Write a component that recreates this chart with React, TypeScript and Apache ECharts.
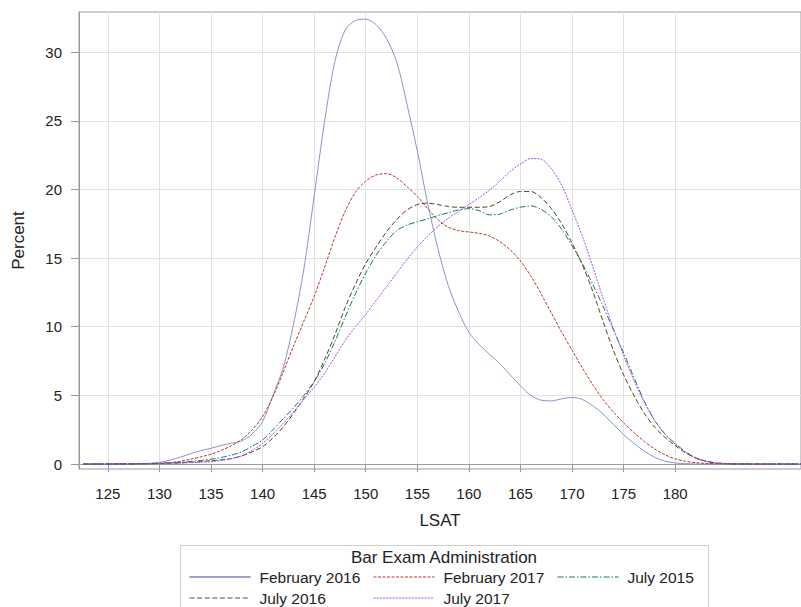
import React, { useEffect, useRef } from 'react';
import * as echarts from 'echarts';

// LSAT score positions at which the curves were read
const lsat = [
  122.6, 124, 126, 128, 129, 130, 131, 132, 133, 134, 135, 136, 137, 138, 139,
  140, 141, 142, 143, 144, 145, 146, 147, 148, 149, 150, 151, 152, 153, 154,
  155, 156, 157, 158, 159, 160, 161, 162, 163, 164, 165, 166, 167, 168, 169,
  170, 171, 172, 173, 174, 175, 176, 177, 178, 179, 180, 181, 182, 183, 184,
  185, 186, 188, 190, 192.2,
];

const feb2016 = [
  0, 0, 0, 0.02, 0.05, 0.12, 0.28, 0.5, 0.75, 0.97, 1.15, 1.35, 1.52, 1.7, 2.2,
  3.1, 5.0, 7.0, 10.2, 14.2, 19.5, 24.9, 29.3, 31.6, 32.3, 32.4, 32.0, 31.0, 29.3, 26.2,
  22.8, 19.0, 15.7, 13.0, 11.1, 9.6, 8.7, 8.0, 7.3, 6.5, 5.7, 5.0, 4.65, 4.6, 4.75,
  4.85, 4.7, 4.25, 3.65, 2.9, 2.15, 1.5, 0.95, 0.5, 0.22, 0.08, 0.03, 0.01, 0, 0,
  0, 0, 0, 0, 0,
];

const feb2017 = [
  0, 0, 0.01, 0.02, 0.03, 0.05, 0.1, 0.2, 0.35, 0.52, 0.72, 1.0, 1.35, 1.8, 2.5,
  3.45, 4.9, 6.7, 8.6, 10.4, 12.2, 14.3, 16.5, 18.4, 19.8, 20.6, 21.05, 21.15, 20.85, 20.2,
  19.5, 18.6, 17.8, 17.25, 17.0, 16.9, 16.8, 16.6, 16.2, 15.6, 14.8, 13.7, 12.4, 11.0, 9.6,
  8.3, 7.0, 5.8, 4.7, 3.8, 3.0, 2.3, 1.65, 1.1, 0.68, 0.38, 0.2, 0.1, 0.05, 0.03,
  0.02, 0.01, 0, 0, 0,
];

const jul2015 = [
  0, 0, 0.01, 0.02, 0.04, 0.06, 0.09, 0.13, 0.19, 0.26, 0.35, 0.48, 0.65, 0.9, 1.3,
  1.75, 2.5, 3.3, 4.1, 5.0, 6.0, 7.3, 8.9, 10.7, 12.4, 13.9, 15.2, 16.2, 17.0, 17.4,
  17.65, 17.85, 18.1, 18.3, 18.5, 18.6, 18.45, 18.15, 18.2, 18.5, 18.7, 18.8, 18.55, 18.0, 17.1,
  15.9, 14.6, 13.1, 11.5, 9.8, 8.1, 6.3, 4.6, 3.2, 2.2, 1.5, 0.9, 0.45, 0.2, 0.08,
  0.03, 0.01, 0, 0, 0,
];

const jul2016 = [
  0, 0, 0.01, 0.02, 0.03, 0.04, 0.06, 0.09, 0.13, 0.18, 0.24, 0.31, 0.4, 0.6, 0.9,
  1.26, 1.9, 2.7, 3.7, 4.8, 6.0, 7.6, 9.4, 11.4, 13.1, 14.6, 15.8, 16.9, 17.8, 18.5,
  18.9, 19.0, 18.9, 18.75, 18.7, 18.7, 18.7, 18.75, 19.1, 19.6, 19.85, 19.85, 19.4, 18.6, 17.5,
  16.1, 14.5, 12.6, 10.4, 8.3, 6.5, 5.0, 3.7, 2.7, 1.95, 1.35, 0.82, 0.45, 0.2, 0.08,
  0.03, 0.01, 0, 0, 0,
];

const jul2017 = [
  0, 0, 0.01, 0.02, 0.02, 0.03, 0.05, 0.07, 0.1, 0.13, 0.18, 0.26, 0.4, 0.6, 1.0,
  1.5, 2.2, 2.96, 3.8, 4.7, 5.6, 6.6, 7.8, 9.0, 10.0, 10.9, 11.9, 12.9, 13.9, 14.9,
  15.8, 16.6, 17.3, 17.9, 18.4, 18.9, 19.4, 19.95, 20.6, 21.3, 21.85, 22.25, 22.2, 21.5, 20.3,
  18.5, 16.6, 14.4, 12.1, 9.9, 7.9, 6.1, 4.5, 3.2, 2.2, 1.45, 0.85, 0.42, 0.2, 0.08,
  0.03, 0.01, 0, 0, 0,
];

const xTicks = [125, 130, 135, 140, 145, 150, 155, 160, 165, 170, 175, 180];
const yTicks = [0, 5, 10, 15, 20, 25, 30];

const seriesNames = ['February 2016', 'February 2017', 'July 2015', 'July 2016', 'July 2017'];

export default function App() {
  const ref = useRef<HTMLDivElement>(null);

  useEffect(() => {
    if (!ref.current) return;
    const chart = echarts.init(ref.current, null, { renderer: 'svg' });
    const font = '"Liberation Sans", Arial, sans-serif';
    const axisGray = '#9a9a9a';
    const gridGray = '#e2e2e2';

    const mk = (name: string, vals: number[], color: string, dash: any, width = 1) => ({
      name,
      type: 'line',
      data: lsat.map((x, i) => [x, vals[i]]),
      symbol: 'none',
      smooth: 0.3,
      lineStyle: { color, width, type: dash },
      itemStyle: { color },
      emphasis: { disabled: true },
    });

    const legendPos: [number, number][] = [
      [189, 569],
      [373, 569],
      [557, 569],
      [189, 590],
      [373, 590],
    ];
    const legendLineColors = ['#3a4a9e', '#b8372c', '#0f7a6b', '#6b4a2a', '#a64ff5'];

    const legends = seriesNames.map((n, i) => ({
      data: [n],
      left: legendPos[i][0],
      top: legendPos[i][1],
      padding: 0,
      itemWidth: 61,
      itemHeight: 14,
      itemGap: 0,
      selectedMode: false,
      itemStyle: { opacity: 0, borderWidth: 0 },
      lineStyle: { color: legendLineColors[i], width: 1 },
      textStyle: {
        fontSize: 15.5,
        fontFamily: font,
        color: '#222',
        lineHeight: 16,
        padding: [0, 0, 0, 4],
      },
    }));

    chart.setOption({
      animation: false,
      backgroundColor: '#fff',
      grid: {
        left: 79,
        right: 0,
        top: 12,
        bottom: 138,
        show: true,
        borderColor: axisGray,
        borderWidth: 1,
        backgroundColor: 'transparent',
      },
      legend: legends,
      xAxis: {
        type: 'value',
        min: 122.2,
        max: 192.2,
        name: 'LSAT',
        nameLocation: 'middle',
        nameGap: 43,
        nameTextStyle: { fontSize: 17, fontFamily: font, color: '#222' },
        axisLine: { show: true, lineStyle: { color: axisGray, width: 1 } },
        axisTick: { show: true, length: 8, customValues: xTicks, lineStyle: { color: axisGray } },
        axisLabel: {
          customValues: xTicks,
          margin: 17,
          fontSize: 15,
          fontFamily: font,
          color: '#222',
        },
        splitLine: { show: true, lineStyle: { color: gridGray, width: 1 } },
      },
      yAxis: {
        type: 'value',
        min: -0.36,
        max: 32.92,
        name: 'Percent',
        nameLocation: 'middle',
        nameGap: 52,
        nameTextStyle: { fontSize: 17, fontFamily: font, color: '#222' },
        axisLine: { show: true, lineStyle: { color: axisGray, width: 1 } },
        axisTick: { show: true, length: 8, customValues: yTicks, lineStyle: { color: axisGray } },
        axisLabel: {
          customValues: yTicks,
          margin: 17,
          fontSize: 15,
          fontFamily: font,
          color: '#222',
        },
        splitLine: { show: true, lineStyle: { color: gridGray, width: 1 } },
      },
      graphic: [
        {
          type: 'rect',
          shape: { x: 180.5, y: 545.5, width: 528, height: 70 },
          style: { fill: 'none', stroke: '#cfcfcf', lineWidth: 1 },
          silent: true,
        },
        {
          type: 'text',
          x: 444,
          y: 557,
          style: {
            text: 'Bar Exam Administration',
            fontSize: 17,
            fontFamily: font,
            fill: '#222',
            align: 'center',
            verticalAlign: 'middle',
          },
          silent: true,
        },
      ],
      series: [
        mk('February 2016', feb2016, '#8a93cf', 'solid'),
        mk('February 2017', feb2017, '#b8372c', [3, 1.5]),
        mk('July 2015', jul2015, '#0f7a6b', [6, 2, 1.5, 2]),
        mk('July 2016', jul2016, '#5c3d1e', [5, 2.6]),
        mk('July 2017', jul2017, '#a64ff5', [2, 1.2]),
      ],
    });

    return () => chart.dispose();
  }, []);

  return (
    <div
      ref={ref}
      style={{ position: 'fixed', left: 0, top: 0, width: 801, height: 607, background: '#fff' }}
    />
  );
}
